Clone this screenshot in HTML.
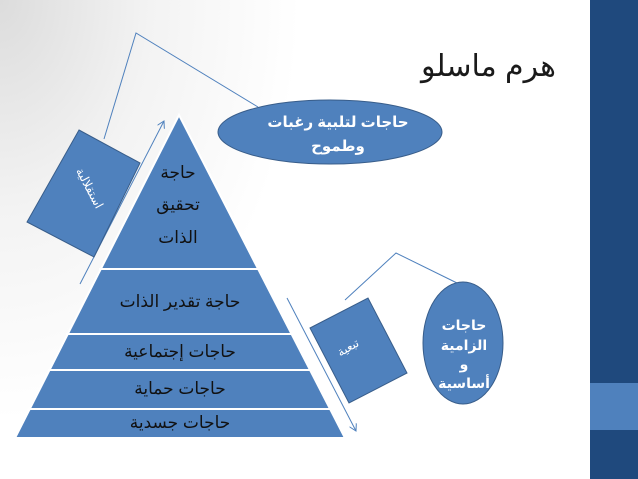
<!DOCTYPE html>
<html><head><meta charset="utf-8"><style>
html,body{margin:0;padding:0;width:638px;height:479px;overflow:hidden;background:#fff}
svg{display:block}
text{font-family:"Liberation Sans","DejaVu Sans",sans-serif}
</style></head><body>
<svg width="638" height="479" viewBox="0 0 638 479" xmlns="http://www.w3.org/2000/svg">
<defs>
<radialGradient id="bg" cx="0" cy="0" r="1" gradientUnits="userSpaceOnUse" gradientTransform="translate(0 0) scale(300 420)">
<stop offset="0" stop-color="#dcdcdc"/><stop offset="0.5" stop-color="#f3f3f3"/><stop offset="1" stop-color="#ffffff"/>
</radialGradient>
<marker id="ah" markerWidth="8" markerHeight="8" refX="7" refY="4" orient="auto" markerUnits="userSpaceOnUse"><path d="M0,0 L7,4 L0,8" fill="none" stroke="#4f81bd" stroke-width="1"/></marker>
</defs>
<rect width="638" height="479" fill="url(#bg)"/>
<rect x="590" y="0" width="48" height="479" fill="#1f497d"/>
<rect x="590" y="383" width="48" height="47" fill="#4f81bd"/>
<text x="556" y="76" font-size="30" fill="#1a1a1a" text-anchor="end">هرم ماسلو</text>
<!-- pyramid -->
<polygon points="179,115 345,438 15,438" fill="#4f81bd" stroke="#fff" stroke-width="2"/>
<g stroke="#fff" stroke-width="2">
<line x1="99" y1="269" x2="259" y2="269"/>
<line x1="66" y1="334" x2="292" y2="334"/>
<line x1="48" y1="370" x2="311" y2="370"/>
<line x1="28" y1="409" x2="331" y2="409"/>
</g>
<g font-size="17" fill="#111" text-anchor="middle">
<text x="178" y="178">حاجة</text>
<text x="178" y="210">تحقيق</text>
<text x="178" y="243">الذات</text>
<text x="180" y="307">حاجة تقدير الذات</text>
<text x="180" y="357">حاجات إجتماعية</text>
<text x="180" y="394">حاجات حماية</text>
<text x="180" y="428">حاجات جسدية</text>
</g>
<!-- arrows -->
<line x1="80" y1="284" x2="164" y2="121" stroke="#4f81bd" stroke-width="1" marker-end="url(#ah)"/>
<line x1="287" y1="298" x2="356" y2="431" stroke="#4f81bd" stroke-width="1" marker-end="url(#ah)"/>
<!-- connectors -->
<polyline points="104,139 136,33 258,107" fill="none" stroke="#4f81bd" stroke-width="1"/>
<polyline points="345,300 396,253 457,283" fill="none" stroke="#4f81bd" stroke-width="1"/>
<!-- left rotated rect -->
<polygon points="79,130 140,163 94,257 27,222" fill="#4f81bd" stroke="#385d8a" stroke-width="1"/>
<text x="0" y="0" font-size="12" fill="#fff" text-anchor="middle" transform="translate(86,190) rotate(62)">استقلالية</text>
<!-- right rotated rect -->
<polygon points="310,328 368,298 407,373 349,403" fill="#4f81bd" stroke="#385d8a" stroke-width="1"/>
<text x="0" y="0" font-size="12" fill="#fff" text-anchor="middle" transform="translate(350,351) rotate(-30)">تبعية</text>
<!-- ellipses -->
<ellipse cx="330" cy="132" rx="112" ry="32" fill="#4f81bd" stroke="#385d8a" stroke-width="1"/>
<g font-size="15" font-weight="bold" fill="#fff" text-anchor="middle">
<text x="338" y="127">حاجات لتلبية رغبات</text>
<text x="338" y="151">وطموح</text>
</g>
<ellipse cx="463" cy="343" rx="40" ry="61" fill="#4f81bd" stroke="#385d8a" stroke-width="1"/>
<g font-size="14" font-weight="bold" fill="#fff" text-anchor="middle">
<text x="464" y="330">حاجات</text>
<text x="464" y="350">الزامية</text>
<text x="464" y="369">و</text>
<text x="464" y="388">أساسية</text>
</g>
</svg>
</body></html>
